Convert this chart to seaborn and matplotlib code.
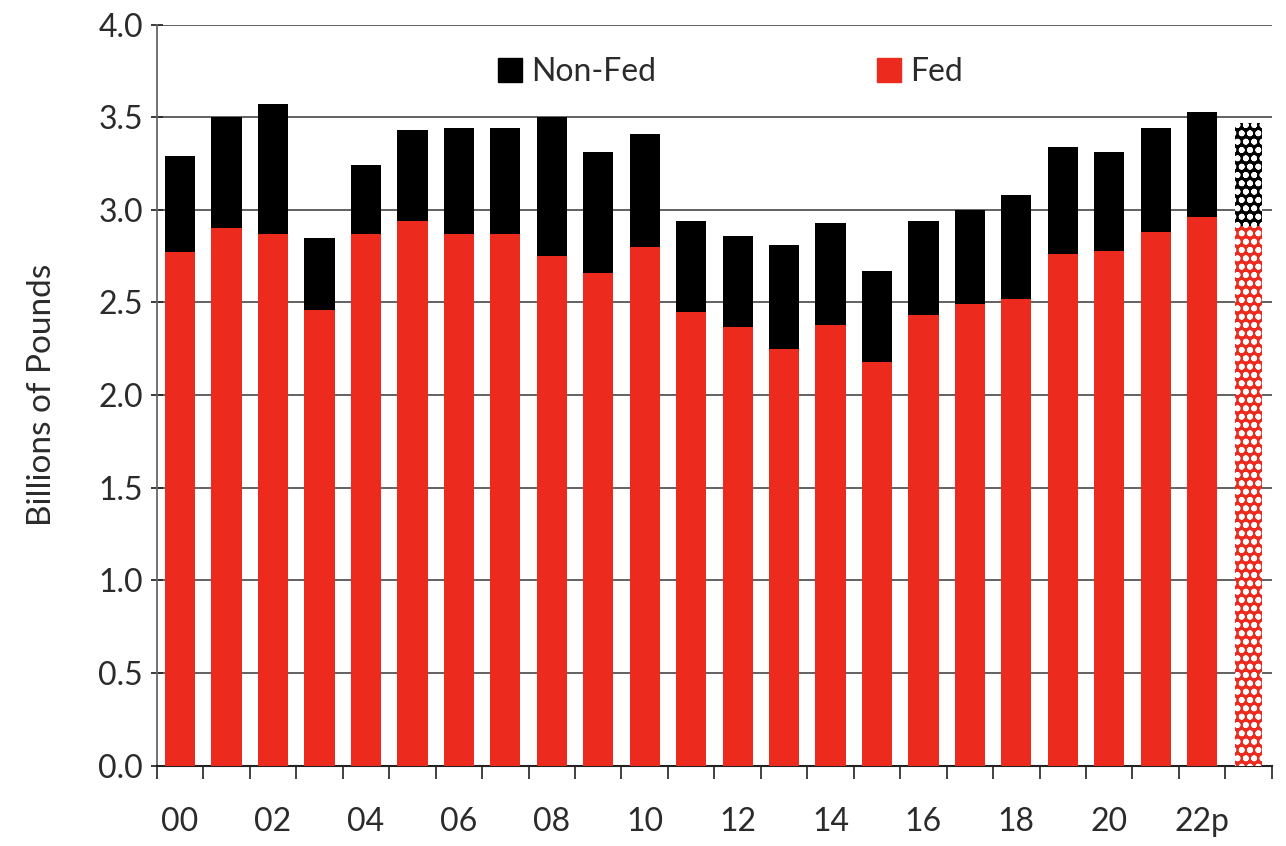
import numpy as np
import pandas as pd
import seaborn as sns
import matplotlib.pyplot as plt
from matplotlib.patches import Patch

# values (billions of pounds)
years = ['00', '01', '02', '03', '04', '05', '06', '07', '08', '09', '10', '11',
         '12', '13', '14', '15', '16', '17', '18', '19', '20', '21', '22p', '23']
total = [3.29, 3.50, 3.57, 2.85, 3.24, 3.43, 3.44, 3.44, 3.50, 3.31, 3.41, 2.94,
         2.86, 2.81, 2.93, 2.67, 2.94, 3.00, 3.08, 3.34, 3.31, 3.44, 3.53, 3.47]
fed = [2.77, 2.90, 2.87, 2.46, 2.87, 2.94, 2.87, 2.87, 2.75, 2.66, 2.80, 2.45,
       2.37, 2.25, 2.38, 2.18, 2.43, 2.49, 2.52, 2.76, 2.78, 2.88, 2.96, 2.91]
tick_labels = ['00', '02', '04', '06', '08', '10', '12', '14', '16', '18', '20', '22p']

RED = '#ED2A1E'
TXT = '#2b2b2b'

sns.set_style('white')
plt.rcParams['font.family'] = ['Lato', 'DejaVu Sans']
plt.rcParams['hatch.linewidth'] = 1.8

df = pd.DataFrame({'year': years, 'total': total, 'fed': fed})

fig, ax = plt.subplots(figsize=(12.86, 8.46), dpi=100)
fig.subplots_adjust(left=0.122, right=0.989, top=0.971, bottom=0.095)

sns.barplot(data=df, x='year', y='total', color='black', width=0.65,
            saturation=1, ax=ax, zorder=2, linewidth=0)
sns.barplot(data=df, x='year', y='fed', color=RED, width=0.65,
            saturation=1, ax=ax, zorder=3, linewidth=0)

# last year is an estimate: dotted fill
n = len(years)
for p in [ax.patches[n - 1], ax.patches[2 * n - 1]]:
    p.set_hatch('oo')
    p.set_edgecolor('white')
    p.set_linewidth(0)
    p.set_x(p.get_x() + 0.03)
    p.set_width(p.get_width() - 0.06)

ax.set_ylim(0, 4.0)
ax.set_xlim(-0.5, n - 0.5)
ax.set_yticks(np.arange(0, 4.01, 0.5))
ax.set_yticklabels([f'{v:.1f}' for v in np.arange(0, 4.01, 0.5)])
ax.yaxis.grid(True, color='#555555', linewidth=1.3, zorder=0)
ax.set_axisbelow(True)

# category labels every other year, tick marks between bars
ax.set_xticks(range(0, n, 2))
ax.set_xticklabels(tick_labels)
ax.set_xticks(np.arange(-0.5, n, 1), minor=True)
ax.tick_params(axis='x', which='major', length=0, pad=30, labelsize=23, colors=TXT)
ax.tick_params(axis='x', which='minor', length=9, width=1.3, direction='out', color='#333333')
ax.tick_params(axis='y', length=8, width=1.3, direction='inout', labelsize=23,
               colors=TXT, pad=6)
ax.tick_params(axis='y', left=True)
ax.tick_params(axis='x', which='minor', bottom=True)

for s in ['top', 'right']:
    ax.spines[s].set_visible(False)
ax.spines['left'].set_color('#666666')
ax.spines['left'].set_linewidth(1.3)
ax.spines['bottom'].set_color('#222222')
ax.spines['bottom'].set_linewidth(1.5)

ax.set_xlabel('')
ax.set_ylabel('Billions of Pounds', fontsize=24, color=TXT, labelpad=30)

handles = [Patch(color='black', label='Non-Fed'), Patch(color=RED, label='Fed')]
ax.legend(handles=handles, ncol=2, loc='upper left', bbox_to_anchor=(0.28, 0.995),
          frameon=False, fontsize=23, handlelength=0.75, handleheight=0.75,
          handletextpad=0.3, columnspacing=6.9, labelcolor=TXT)

plt.savefig('out.png', dpi=100)
